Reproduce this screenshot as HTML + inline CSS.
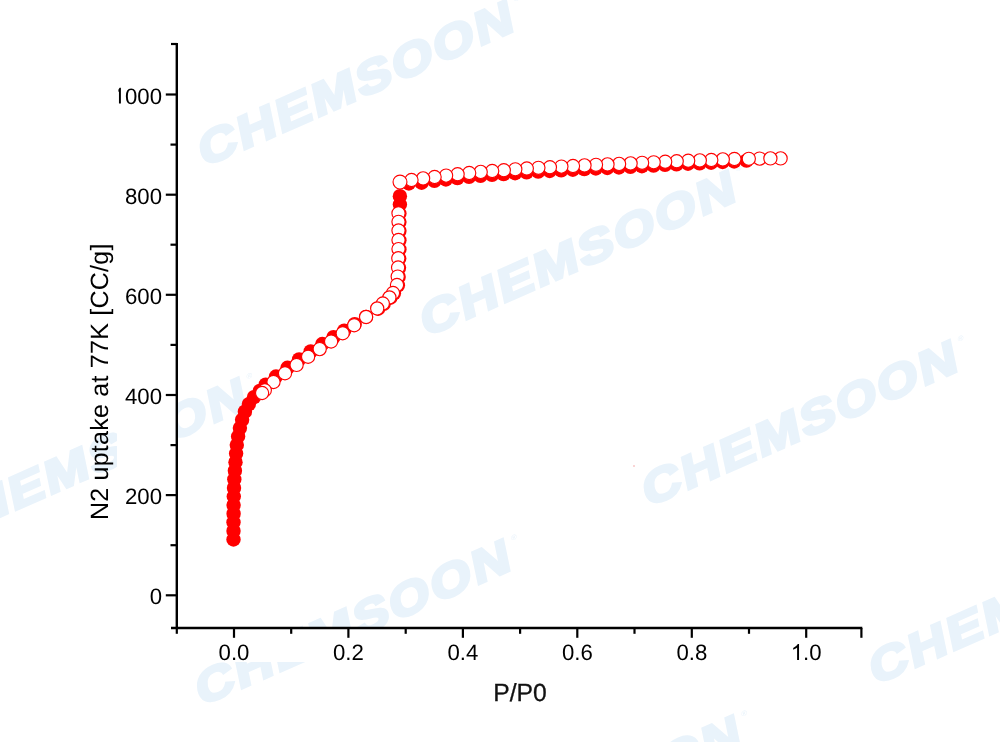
<!DOCTYPE html>
<html><head><meta charset="utf-8"><title>N2 isotherm</title>
<style>
html,body{margin:0;padding:0;background:#fff;}
body{width:1000px;height:742px;overflow:hidden;font-family:"Liberation Sans",sans-serif;}
svg{display:block;}
text{font-family:"Liberation Sans",sans-serif;text-rendering:geometricPrecision;}
svg{will-change:transform;}
.wm{font-size:45.6px;font-weight:bold;letter-spacing:2.2px;fill:#e9f3fb;stroke:#e9f3fb;stroke-width:2.9px;stroke-linejoin:miter;}
.tm{font-size:7px;fill:#e9f3fb;}
.tl text{font-size:22.2px;fill:#000;}
.yl{font-size:25px;fill:#000;letter-spacing:0.25px;}
.xl{font-size:24.7px;fill:#111;stroke:#111;stroke-width:0.3px;}
</style></head><body>
<svg width="1000" height="742" viewBox="0 0 1000 742">
<defs><clipPath id="cl"><rect x="118.4" y="0" width="100" height="742"/></clipPath></defs>
<rect width="1000" height="742" fill="#fff"/>
<g transform="translate(517.5,29.4) rotate(-23.7) skewX(-12) scale(1.2,1)"><text class="wm" x="0" y="0" text-anchor="end">CHEMSOON</text><text class="tm" x="2" y="-26.4">®</text></g>
<g transform="translate(739.5,199.4) rotate(-23.7) skewX(-12) scale(1.2,1)"><text class="wm" x="0" y="0" text-anchor="end">CHEMSOON</text><text class="tm" x="2" y="-26.4">®</text></g>
<g transform="translate(961.5,369.4) rotate(-23.7) skewX(-12) scale(1.2,1)"><text class="wm" x="0" y="0" text-anchor="end">CHEMSOON</text><text class="tm" x="2" y="-26.4">®</text></g>
<g transform="translate(250.3,406.8) rotate(-23.7) skewX(-12) scale(1.2,1)"><text class="wm" x="0" y="0" text-anchor="end">CHEMSOON</text><text class="tm" x="2" y="-26.4">®</text></g>
<g transform="translate(514.7,568.4) rotate(-23.7) skewX(-12) scale(1.2,1)"><text class="wm" x="0" y="0" text-anchor="end">CHEMSOON</text><text class="tm" x="2" y="-26.4">®</text></g>
<g transform="translate(1188.5,547.4) rotate(-23.7) skewX(-12) scale(1.2,1)"><text class="wm" x="0" y="0" text-anchor="end">CHEMSOON</text><text class="tm" x="2" y="-26.4">®</text></g>
<g transform="translate(744.9,744.3) rotate(-23.7) skewX(-12) scale(1.2,1)"><text class="wm" x="0" y="0" text-anchor="end">CHEMSOON</text><text class="tm" x="2" y="-26.4">®</text></g>
<rect x="117" y="36" width="60.3" height="600" fill="#fff"/>
<rect x="170" y="628.0" width="694" height="34" fill="#fff"/>
<g stroke="#000" stroke-width="2.4" fill="none">
<line x1="176.8" y1="43" x2="176.8" y2="629.0"/>
<line x1="171" y1="628.0" x2="862.3" y2="628.0"/>
</g><g stroke="#000" stroke-width="2.2" fill="none">
<line x1="171" y1="44" x2="176.8" y2="44"/>
<line x1="165.8" y1="595.3" x2="176.8" y2="595.3"/>
<line x1="170.5" y1="545.2" x2="176.8" y2="545.2"/>
<line x1="165.8" y1="495.1" x2="176.8" y2="495.1"/>
<line x1="170.5" y1="445.1" x2="176.8" y2="445.1"/>
<line x1="165.8" y1="395.0" x2="176.8" y2="395.0"/>
<line x1="170.5" y1="344.9" x2="176.8" y2="344.9"/>
<line x1="165.8" y1="294.8" x2="176.8" y2="294.8"/>
<line x1="170.5" y1="244.7" x2="176.8" y2="244.7"/>
<line x1="165.8" y1="194.7" x2="176.8" y2="194.7"/>
<line x1="170.5" y1="144.6" x2="176.8" y2="144.6"/>
<line x1="165.8" y1="94.5" x2="176.8" y2="94.5"/>
<line x1="176.8" y1="628.0" x2="176.8" y2="633.8"/>
<line x1="234.0" y1="628.0" x2="234.0" y2="637.8"/>
<line x1="291.2" y1="628.0" x2="291.2" y2="633.8"/>
<line x1="348.4" y1="628.0" x2="348.4" y2="637.8"/>
<line x1="405.7" y1="628.0" x2="405.7" y2="633.8"/>
<line x1="462.9" y1="628.0" x2="462.9" y2="637.8"/>
<line x1="520.1" y1="628.0" x2="520.1" y2="633.8"/>
<line x1="577.3" y1="628.0" x2="577.3" y2="637.8"/>
<line x1="634.5" y1="628.0" x2="634.5" y2="633.8"/>
<line x1="691.8" y1="628.0" x2="691.8" y2="637.8"/>
<line x1="749.0" y1="628.0" x2="749.0" y2="633.8"/>
<line x1="806.2" y1="628.0" x2="806.2" y2="637.8"/>
<line x1="861.4" y1="628.0" x2="861.4" y2="637.8"/>
</g>
<g class="tl" clip-path="url(#cl)">
<text x="162" y="604.4" text-anchor="end">0</text>
<text x="162" y="504.2" text-anchor="end">200</text>
<text x="162" y="404.1" text-anchor="end">400</text>
<text x="162" y="303.9" text-anchor="end">600</text>
<text x="162" y="203.8" text-anchor="end">800</text>
<path transform="translate(112.61,103.60) scale(0.01084,-0.01084)" d="M763 0L583 0L583 1147Q518 1085 412.5 1023Q307 961 223 930L223 1104Q374 1175 487 1276Q600 1377 647 1472L763 1472Z" fill="#000"/>
<text x="162" y="103.6" text-anchor="end">000</text>
</g><g class="tl">
<text x="234.0" y="659.9" text-anchor="middle">0.0</text>
<text x="348.4" y="659.9" text-anchor="middle">0.2</text>
<text x="462.9" y="659.9" text-anchor="middle">0.4</text>
<text x="577.3" y="659.9" text-anchor="middle">0.6</text>
<text x="691.8" y="659.9" text-anchor="middle">0.8</text>
<path transform="translate(790.77,659.90) scale(0.01084,-0.01084)" d="M763 0L583 0L583 1147Q518 1085 412.5 1023Q307 961 223 930L223 1104Q374 1175 487 1276Q600 1377 647 1472L763 1472Z" fill="#000"/>
<text x="803.12" y="659.9" text-anchor="start">.0</text>
</g>
<text class="yl" transform="translate(107.7,381.75) rotate(-90)" text-anchor="middle">N2 uptake at 77K [CC/g]</text>
<text class="xl" x="520" y="701.1" text-anchor="middle">P/P0</text>
<g fill="#ff0000">
<circle cx="233.5" cy="539.5" r="7.2"/>
<circle cx="233.5" cy="530.9" r="7.2"/>
<circle cx="233.5" cy="522.3" r="7.2"/>
<circle cx="233.6" cy="513.7" r="7.2"/>
<circle cx="233.6" cy="505.1" r="7.2"/>
<circle cx="233.8" cy="496.5" r="7.2"/>
<circle cx="234.0" cy="487.9" r="7.2"/>
<circle cx="234.3" cy="479.3" r="7.2"/>
<circle cx="234.9" cy="470.7" r="7.2"/>
<circle cx="235.5" cy="462.2" r="7.2"/>
<circle cx="236.1" cy="453.6" r="7.2"/>
<circle cx="236.8" cy="445.0" r="7.2"/>
<circle cx="238.1" cy="436.5" r="7.2"/>
<circle cx="239.9" cy="428.1" r="7.2"/>
<circle cx="242.1" cy="419.8" r="7.2"/>
<circle cx="244.9" cy="411.7" r="7.2"/>
<circle cx="248.9" cy="404.1" r="7.2"/>
<circle cx="254.0" cy="397.2" r="7.2"/>
<circle cx="259.8" cy="390.9" r="7.2"/>
<circle cx="265.7" cy="384.6" r="7.2"/>
<circle cx="276.0" cy="376.5" r="7.2"/>
<circle cx="287.5" cy="367.8" r="7.2"/>
<circle cx="299.1" cy="359.4" r="7.2"/>
<circle cx="310.7" cy="351.4" r="7.2"/>
<circle cx="322.3" cy="344.0" r="7.2"/>
<circle cx="333.5" cy="337.2" r="7.2"/>
<circle cx="344.2" cy="330.6" r="7.2"/>
<circle cx="354.7" cy="324.1" r="7.2"/>
<circle cx="366.0" cy="316.9" r="7.2"/>
<circle cx="378.1" cy="308.7" r="7.2"/>
<circle cx="383.7" cy="303.8" r="7.2"/>
<circle cx="390.3" cy="297.7" r="7.2"/>
<circle cx="393.9" cy="293.3" r="7.2"/>
<circle cx="397.9" cy="285.3" r="7.2"/>
<circle cx="398.6" cy="276.9" r="7.2"/>
<circle cx="399.0" cy="267.8" r="7.2"/>
<circle cx="399.2" cy="258.6" r="7.2"/>
<circle cx="399.4" cy="249.4" r="7.2"/>
<circle cx="399.4" cy="240.3" r="7.2"/>
<circle cx="399.4" cy="230.8" r="7.2"/>
<circle cx="399.4" cy="222.1" r="7.2"/>
<circle cx="399.4" cy="213.6" r="7.2"/>
<circle cx="399.9" cy="204.5" r="7.2"/>
<circle cx="399.9" cy="196.2" r="7.2"/>
<circle cx="408.8" cy="183.5" r="7.2"/>
<circle cx="421.6" cy="182.7" r="7.2"/>
<circle cx="434.4" cy="180.9" r="7.2"/>
<circle cx="445.9" cy="179.5" r="7.2"/>
<circle cx="457.4" cy="178.1" r="7.2"/>
<circle cx="469.0" cy="176.9" r="7.2"/>
<circle cx="480.5" cy="175.8" r="7.2"/>
<circle cx="492.0" cy="174.9" r="7.2"/>
<circle cx="503.6" cy="174.1" r="7.2"/>
<circle cx="515.1" cy="173.2" r="7.2"/>
<circle cx="526.6" cy="172.3" r="7.2"/>
<circle cx="538.2" cy="171.6" r="7.2"/>
<circle cx="549.7" cy="171.0" r="7.2"/>
<circle cx="561.2" cy="170.3" r="7.2"/>
<circle cx="572.8" cy="169.7" r="7.2"/>
<circle cx="584.3" cy="169.1" r="7.2"/>
<circle cx="595.8" cy="168.5" r="7.2"/>
<circle cx="607.3" cy="168.0" r="7.2"/>
<circle cx="618.9" cy="167.5" r="7.2"/>
<circle cx="630.4" cy="166.9" r="7.2"/>
<circle cx="641.9" cy="166.2" r="7.2"/>
<circle cx="653.5" cy="165.6" r="7.2"/>
<circle cx="665.0" cy="164.9" r="7.2"/>
<circle cx="676.5" cy="164.3" r="7.2"/>
<circle cx="688.0" cy="163.7" r="7.2"/>
<circle cx="699.6" cy="163.3" r="7.2"/>
<circle cx="711.1" cy="162.7" r="7.2"/>
<circle cx="722.6" cy="162.0" r="7.2"/>
<circle cx="734.2" cy="161.5" r="7.2"/>
<circle cx="746.5" cy="160.6" r="7.2"/>
</g><g fill="#fff" stroke="#ff0000" stroke-width="1.15">
<circle cx="780.6" cy="158.4" r="6.6"/>
<circle cx="759.6" cy="158.6" r="6.6"/>
<circle cx="770.4" cy="158.4" r="6.6"/>
<circle cx="748.8" cy="158.8" r="6.6"/>
<circle cx="734.4" cy="159.0" r="6.6"/>
<circle cx="722.8" cy="159.4" r="6.6"/>
<circle cx="711.3" cy="160.0" r="6.6"/>
<circle cx="699.8" cy="160.4" r="6.6"/>
<circle cx="688.2" cy="160.7" r="6.6"/>
<circle cx="676.7" cy="161.2" r="6.6"/>
<circle cx="665.2" cy="161.7" r="6.6"/>
<circle cx="653.7" cy="162.3" r="6.6"/>
<circle cx="642.1" cy="162.8" r="6.6"/>
<circle cx="630.6" cy="163.4" r="6.6"/>
<circle cx="619.1" cy="163.9" r="6.6"/>
<circle cx="607.5" cy="164.4" r="6.6"/>
<circle cx="596.0" cy="164.8" r="6.6"/>
<circle cx="584.5" cy="165.4" r="6.6"/>
<circle cx="573.0" cy="166.0" r="6.6"/>
<circle cx="561.4" cy="166.6" r="6.6"/>
<circle cx="549.9" cy="167.2" r="6.6"/>
<circle cx="538.4" cy="167.8" r="6.6"/>
<circle cx="526.8" cy="168.5" r="6.6"/>
<circle cx="515.3" cy="169.3" r="6.6"/>
<circle cx="503.8" cy="170.2" r="6.6"/>
<circle cx="492.2" cy="171.0" r="6.6"/>
<circle cx="480.7" cy="171.9" r="6.6"/>
<circle cx="469.2" cy="173.0" r="6.6"/>
<circle cx="457.6" cy="174.2" r="6.6"/>
<circle cx="446.1" cy="175.6" r="6.6"/>
<circle cx="434.6" cy="177.0" r="6.6"/>
<circle cx="423.1" cy="178.4" r="6.6"/>
<circle cx="411.5" cy="180.0" r="6.6"/>
<circle cx="400.0" cy="182.0" r="6.95"/>
<circle cx="398.5" cy="213.3" r="6.6"/>
<circle cx="398.5" cy="221.8" r="6.6"/>
<circle cx="398.5" cy="230.5" r="6.6"/>
<circle cx="398.5" cy="240.0" r="6.6"/>
<circle cx="398.5" cy="249.1" r="6.6"/>
<circle cx="398.3" cy="258.3" r="6.6"/>
<circle cx="398.1" cy="267.5" r="6.6"/>
<circle cx="397.7" cy="276.6" r="6.6"/>
<circle cx="397.0" cy="285.0" r="6.6"/>
<circle cx="393.0" cy="293.0" r="6.6"/>
<circle cx="389.4" cy="297.4" r="6.6"/>
<circle cx="382.8" cy="303.5" r="6.6"/>
<circle cx="377.2" cy="308.4" r="6.6"/>
<circle cx="366.1" cy="317.0" r="6.6"/>
<circle cx="354.2" cy="325.2" r="6.6"/>
<circle cx="342.7" cy="333.3" r="6.6"/>
<circle cx="331.1" cy="341.5" r="6.6"/>
<circle cx="319.7" cy="349.1" r="6.6"/>
<circle cx="308.1" cy="356.8" r="6.6"/>
<circle cx="296.6" cy="364.9" r="6.6"/>
<circle cx="285.0" cy="373.3" r="6.6"/>
<circle cx="273.5" cy="382.0" r="6.6"/>
<circle cx="264.8" cy="390.3" r="6.6"/>
<circle cx="262.1" cy="393.0" r="6.6"/>
</g>
<circle cx="634" cy="466" r="0.8" fill="#f4a0a0"/>
</svg>
</body></html>
